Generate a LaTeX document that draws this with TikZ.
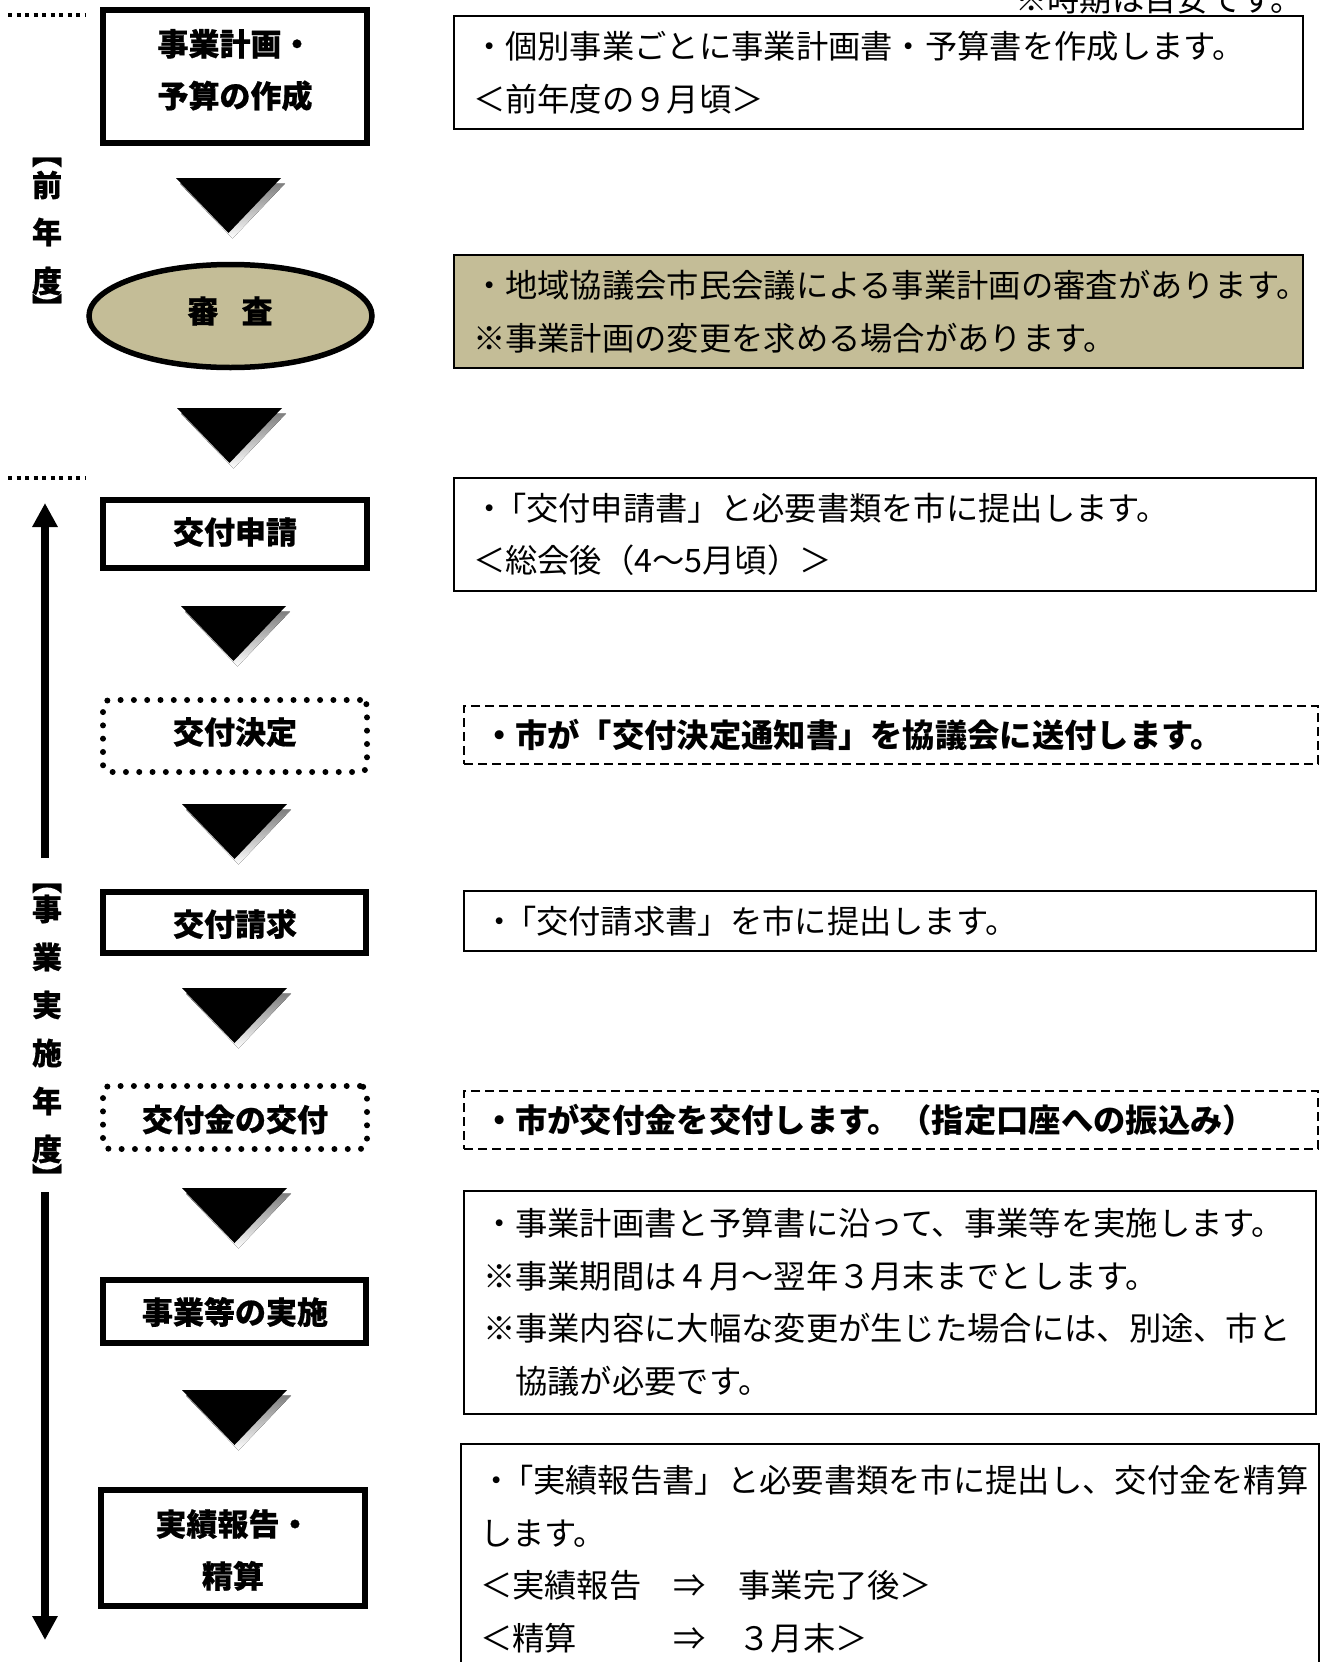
\documentclass[tikz,border=0pt]{standalone}
\usepackage{fontspec}
\setmainfont{Noto Sans CJK JP}
\newfontfamily\heavyfont{Noto Sans CJK JP}[BoldFeatures={FakeBold=0.6}]
\usetikzlibrary{arrows.meta,shapes.geometric}
\definecolor{khaki}{HTML}{C4BD97}
\definecolor{shade}{HTML}{C8C8C8}
\newcommand{\dotq}{・\kern-.35em}
\begin{document}
\begin{tikzpicture}[x=1pt,y=-1pt,
  lbox/.style={draw, line width=6pt, minimum width=264pt, inner sep=0pt},
  dotbox/.style={draw, line width=6pt, line cap=round, dash pattern=on 0pt off 13.3pt, rounded corners=7pt, minimum width=264pt, inner sep=0pt},
  ltext/.style={font=\heavyfont\bfseries\fontsize{31}{52}\selectfont, align=center, inner sep=0pt},
  rbox/.style={draw, line width=2pt, inner xsep=19pt, inner ysep=0pt, align=left, font=\fontsize{32.3}{52.5}\selectfont},
  dbox/.style={rbox, dash pattern=on 9pt off 5pt, font=\bfseries\fontsize{32.3}{52.5}\selectfont},
  vlab/.style={font=\heavyfont\bfseries\fontsize{30}{30}\selectfont, inner sep=0pt},
  vbrk/.style={vlab, rotate=-90},
  divider/.style={line width=3.5pt, dash pattern=on 4pt off 4.5pt},
  timeline/.style={line width=8.5pt, -{Triangle[length=24pt,width=24pt]}},
  downtri/.pic={
    \fill[shade] (-48.5,5.5) -- (56.5,5.5) -- (4,60.5) -- cycle;
    \fill[black] (-52.5,0) -- (52.5,0) -- (0,55) -- cycle;
  }]
\useasboundingbox (0,0) rectangle (1325,1662);
\clip (0,0) rectangle (1325,1662);
\fill[white] (0,0) rectangle (1325,1662);

% top note
\node[anchor=base east, inner sep=0pt, font=\fontsize{32.3}{32.3}\selectfont] (note) at (1303,12) {※時期は目安です。};

% dividers
\coordinate (dv1a) at (8,15); \coordinate (dv1b) at (85,15);
\coordinate (dv2a) at (8,478); \coordinate (dv2b) at (85,478);
\draw[divider] (dv1a) -- (dv1b);
\draw[divider] (dv2a) -- (dv2b);

% vertical labels
\node[vbrk] (p0) at (47,153) {【};
\node[vlab] (p1) at (47,185) {前};
\node[vlab] (p2) at (47,232) {年};
\node[vlab] (p3) at (47,281) {度};
\node[vbrk] (p4) at (47,308) {】};

\node[vbrk] (q0) at (47,879) {【};
\node[vlab] (q1) at (47,909) {事};
\node[vlab] (q2) at (47,957) {業};
\node[vlab] (q3) at (47,1005) {実};
\node[vlab] (q4) at (47,1053) {施};
\node[vlab] (q5) at (47,1101) {年};
\node[vlab] (q6) at (47,1149) {度};
\node[vbrk] (q7) at (47,1178) {】};

% timeline arrows
\coordinate (ua1) at (45,858); \coordinate (ua2) at (45,503);
\coordinate (da1) at (45,1192); \coordinate (da2) at (45,1640);
\draw[timeline] (ua1) -- (ua2);
\draw[timeline] (da1) -- (da2);

% left boxes
\node[lbox, minimum height=133pt] (b1) at (235,76.5) {};
\node[ltext] (b1t) at (235,70) {事業計画・\\予算の作成};

\node[draw, ellipse, line width=5.5pt, fill=khaki, minimum width=283pt, minimum height=103pt, inner sep=0pt] (b2) at (230.5,316) {};
\node[ltext] (b2t) at (230,311) {審\hspace{0.75em}査};

\node[lbox, minimum height=68pt] (b3) at (235,534) {};
\node[ltext] (b3t) at (235,532) {交付申請};

\node[dotbox, minimum height=72pt] (b4) at (235,736) {};
\node[ltext] (b4t) at (235,732) {交付決定};

\node[lbox, minimum height=61pt, minimum width=263pt] (b5) at (234.5,922.5) {};
\node[ltext] (b5t) at (235,924) {交付請求};

\node[dotbox, minimum height=63pt] (b6) at (235,1117.5) {};
\node[ltext] (b6t) at (235,1119.5) {交付金の交付};

\node[lbox, minimum height=63pt, minimum width=263pt] (b7) at (234.5,1311.5) {};
\node[ltext] (b7t) at (235,1312) {事業等の実施};

\node[lbox, minimum height=116pt] (b8) at (233,1548) {};
\node[ltext] (b8t) at (233,1550) {実績報告・\\精算};

% triangles
\pic at (228.5,178) {downtri};
\pic at (229.5,408) {downtri};
\pic at (233.5,606) {downtri};
\pic at (234.5,804) {downtri};
\pic at (234.5,988) {downtri};
\pic at (234.5,1188) {downtri};
\pic at (234.5,1390) {downtri};

% right boxes
\node[rbox, text width=811pt, minimum height=113pt] (r1) at (878.5,72.5)
  {・個別事業ごとに事業計画書・予算書を作成します。\\＜前年度の９月頃＞};
\node[rbox, fill=khaki, text width=811pt, minimum height=113pt] (r2) at (878.5,311.5)
  {・地域協議会市民会議による事業計画の審査があります。\\※事業計画の変更を求める場合があります。};
\node[rbox, text width=824pt, minimum height=113pt] (r3) at (885,534.5)
  {\dotq「交付申請書」と必要書類を市に提出します。\\＜総会後（4～5月頃）＞};
\node[dbox, text width=816pt, minimum height=58pt] (r4) at (891,735)
  {・市が「交付決定通知書」を協議会に送付します。};
\node[rbox, text width=814pt, minimum height=60pt] (r5) at (890,921)
  {\dotq「交付請求書」を市に提出します。};
\node[dbox, text width=816pt, minimum height=58pt] (r6) at (891,1120)
  {・市が交付金を交付します。（指定口座への振込み）};
\node[rbox, text width=814pt, minimum height=223pt] (r7) at (890,1302.5)
  {・事業計画書と予算書に沿って、事業等を実施します。\\※事業期間は４月～翌年３月末までとします。\\※事業内容に大幅な変更が生じた場合には、別途、市と\\　協議が必要です。};
\node[rbox, text width=820pt, minimum height=230pt, anchor=north west] (r8) at (460,1443)
  {\dotq「実績報告書」と必要書類を市に提出し、交付金を精算\\します。\\＜実績報告　⇒　事業完了後＞\\＜精算　　　⇒　３月末＞};
\end{tikzpicture}
\end{document}
